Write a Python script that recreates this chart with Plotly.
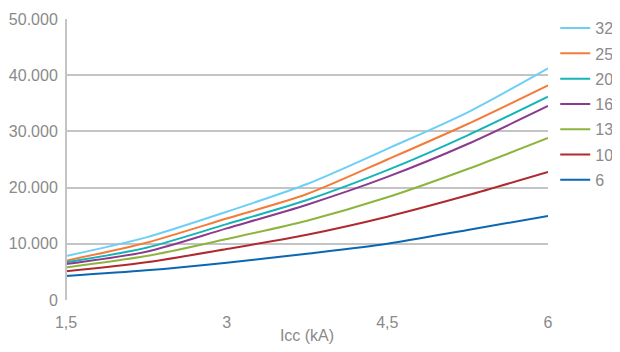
import plotly.graph_objects as go

icc = [1.5, 2.25, 3, 3.75, 4.5, 5.25, 6]
series_names = ["32", "25", "20", "16", "13", "10", "6"]
s32 = [7830, 11150, 15700, 20640, 26900, 33400, 41230]
s25 = [7000, 10200, 14500, 18860, 25000, 31320, 38200]
s20 = [6700, 9310, 13500, 17790, 23100, 29300, 36170]
s16 = [6400, 8600, 12750, 16960, 21900, 27760, 34520]
s13 = [5800, 7830, 10850, 14110, 18270, 23310, 28830]
s10 = [5100, 6700, 9070, 11620, 14830, 18630, 22780]
s6 = [4270, 5280, 6640, 8240, 10000, 12460, 14950]
series_values = [s32, s25, s20, s16, s13, s10, s6]
colors = ["#6DCFF6", "#F47B3A", "#14B4B7", "#8C3A8E", "#8DB43E", "#B0292F", "#0B67B2"]

x_tickvals = [1.5, 3, 4.5, 6]
x_ticktext = ["1,5", "3", "4,5", "6"]
y_tickvals = [0, 10000, 20000, 30000, 40000, 50000]
y_ticktext = ["0", "10.000", "20.000", "30.000", "40.000", "50.000"]

fig = go.Figure()
for i, (name, vals, col) in enumerate(zip(series_names, series_values, colors)):
    fig.add_trace(go.Scatter(
        x=icc, y=vals, name=name, mode="lines",
        line=dict(color=col, width=2, shape="spline", smoothing=0.8),
        legendgroup="g" + name,
    ))

grid = "#C4C4C4"
font_col = "#8A8A8A"
fig.update_layout(
    width=612, height=336,
    margin=dict(l=58, r=72, t=11, b=44, autoexpand=False),
    paper_bgcolor="white", plot_bgcolor="white",
    font=dict(family="Liberation Sans, Arial, sans-serif", size=16, color=font_col),
    showlegend=True,
    legend=dict(x=1.015, y=1.028, xanchor="left", yanchor="top", maxheight=300,
                font=dict(size=16, color=font_col), tracegroupgap=1.5,
                bgcolor="rgba(0,0,0,0)"),
    xaxis=dict(range=[1.5, 6], tickvals=x_tickvals, ticktext=x_ticktext,
               showgrid=False, zeroline=False, showline=False, automargin=False,
               ticks="outside", ticklen=8, tickcolor="rgba(0,0,0,0)",
               title=dict(text="Icc (kA)", standoff=6, font=dict(size=16, color=font_col))),
    yaxis=dict(range=[0, 50000], tickvals=y_tickvals, ticktext=y_ticktext,
               showgrid=True, gridcolor=grid, gridwidth=2, automargin=False,
               zeroline=False, showline=False,
               ticks="outside", ticklen=4, tickcolor="rgba(0,0,0,0)"),
    shapes=[dict(type="line", xref="paper", yref="paper", x0=0, x1=0, y0=0, y1=1,
                 line=dict(color=grid, width=2))],
)
fig.write_html("out.html")
